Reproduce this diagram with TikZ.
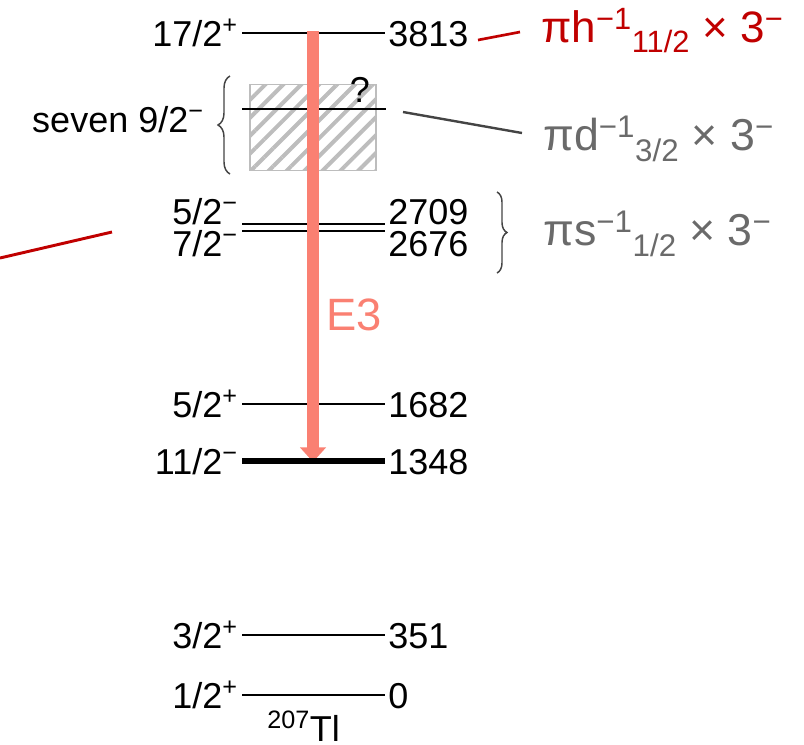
\documentclass[tikz,border=0pt]{standalone}
\usepackage{fontspec}
\setmainfont{Liberation Sans}
\usetikzlibrary{decorations.pathreplacing,patterns.meta,arrows.meta}
\definecolor{salmonc}{HTML}{FA8072}
\definecolor{redc}{HTML}{C00000}
\definecolor{grayt}{HTML}{6A6A6A}
\definecolor{darkl}{HTML}{444444}
\definecolor{hatchc}{HTML}{BDBDBD}
\newcommand\upp[1]{\textsuperscript{#1}}
\begin{document}
\begin{tikzpicture}[x=0.75pt,y=-0.75pt,
  lvl/.style={line width=1pt,black},
  thicklvl/.style={line width=5pt,black},
  lab/.style={font=\fontsize{27}{30}\selectfont,inner sep=0pt},
  lft/.style={lab,anchor=base east},
  rgt/.style={lab,anchor=base west},
  brc/.style={darkl,line width=1.1pt,decorate},
  config/.style={font=\fontsize{33.5}{37}\selectfont,inner sep=0pt,anchor=base west,text=grayt},
  redconf/.style={font=\fontsize{33}{37}\selectfont,inner sep=0pt,anchor=base west,text=redc}]
\useasboundingbox (0,0) rectangle (804,744);

% hatched region of seven 9/2- states
\node[draw=hatchc,line width=1.1pt,pattern={Lines[angle=45,distance=9.5pt,line width=3pt]},pattern color=hatchc,
  minimum width=94.5pt,minimum height=64.5pt,inner sep=0pt] (box) at (313,127.5) {};

% level end points
\coordinate (a3813) at (242,33);  \coordinate (b3813) at (385,33);
\coordinate (a92)   at (242,109); \coordinate (b92)   at (386,109);
\coordinate (a2709) at (242,224); \coordinate (b2709) at (385,224);
\coordinate (a2676) at (242,231); \coordinate (b2676) at (385,231);
\coordinate (a1682) at (242,404); \coordinate (b1682) at (385,404);
\coordinate (a1348) at (242,461); \coordinate (b1348) at (385,461);
\coordinate (a351)  at (242,635); \coordinate (b351)  at (385,635);
\coordinate (a0)    at (242,695); \coordinate (b0)    at (385,695);

\draw[lvl] (a3813) -- (b3813);
\draw[lvl] (a92) -- (b92);
\draw[lvl] (a2709) -- (b2709);
\draw[lvl] (a2676) -- (b2676);
\draw[lvl] (a1682) -- (b1682);
\draw[lvl] (a351) -- (b351);
\draw[lvl] (a0) -- (b0);

% E3 arrow
\coordinate (arrS) at (313,31);
\coordinate (arrE) at (313,462);
\draw[salmonc,line width=9.4pt,-{Triangle[width=19pt,length=11pt]}] (arrS) -- (arrE);
\draw[thicklvl] (a1348) -- (b1348);
\node[font=\fontsize{34}{38}\selectfont,text=salmonc,inner sep=0pt] (e3) at (354,315) {E3};

% left labels
\node[lft] (j3813) at (238,46)  {17/2\upp{+}};
\node[lft] (j2709) at (238,224) {5/2\upp{−}};
\node[lft] (j2676) at (238,256) {7/2\upp{−}};
\node[lft] (j1682) at (238,417) {5/2\upp{+}};
\node[lft] (j1348) at (238,474) {11/2\upp{−}};
\node[lft] (j351)  at (238,648) {3/2\upp{+}};
\node[lft] (j0)    at (238,708) {1/2\upp{+}};
\node[lft] (seven) at (204,132) {seven 9/2\upp{−}};

% right labels
\node[rgt] (e3813) at (388,46)  {3813};
\node[rgt] (e2709) at (388,224) {2709};
\node[rgt] (e2676) at (388,256) {2676};
\node[rgt] (e1682) at (388,417) {1682};
\node[rgt] (e1348) at (388,474) {1348};
\node[rgt] (e351)  at (388,648) {351};
\node[rgt] (e0)    at (388,708) {0};
\node[lab] (q) at (360,90) {?};
\node[lab,anchor=base west] (tl) at (267,741) {\upp{207}Tl};

% braces
\draw[brc,decoration={brace,amplitude=9pt}] (230,174) -- (230,76);
\draw[brc,decoration={brace,amplitude=7.5pt}] (497,192) -- (497,273);

% configurations
\node[redconf] (hconf) at (541,42) {πh\upp{−1}\textsubscript{11/2} × 3\upp{−}};
\node[config] (dconf) at (543,150) {πd\upp{−1}\textsubscript{3/2} × 3\upp{−}};
\node[config] (sconf) at (543,245) {πs\upp{−1}\textsubscript{1/2} × 3\upp{−}};

% pointer lines
\coordinate (rt1) at (478,40); \coordinate (rt2) at (520,32);
\draw[redc,line width=2pt] (rt1) -- (rt2);
\coordinate (gl1) at (403,112); \coordinate (gl2) at (522,133);
\draw[darkl,line width=1.8pt] (gl1) -- (gl2);
\coordinate (rl1) at (0,258); \coordinate (rl2) at (112,232);
\draw[redc,line width=2.2pt] (rl1) -- (rl2);
\end{tikzpicture}
\end{document}
